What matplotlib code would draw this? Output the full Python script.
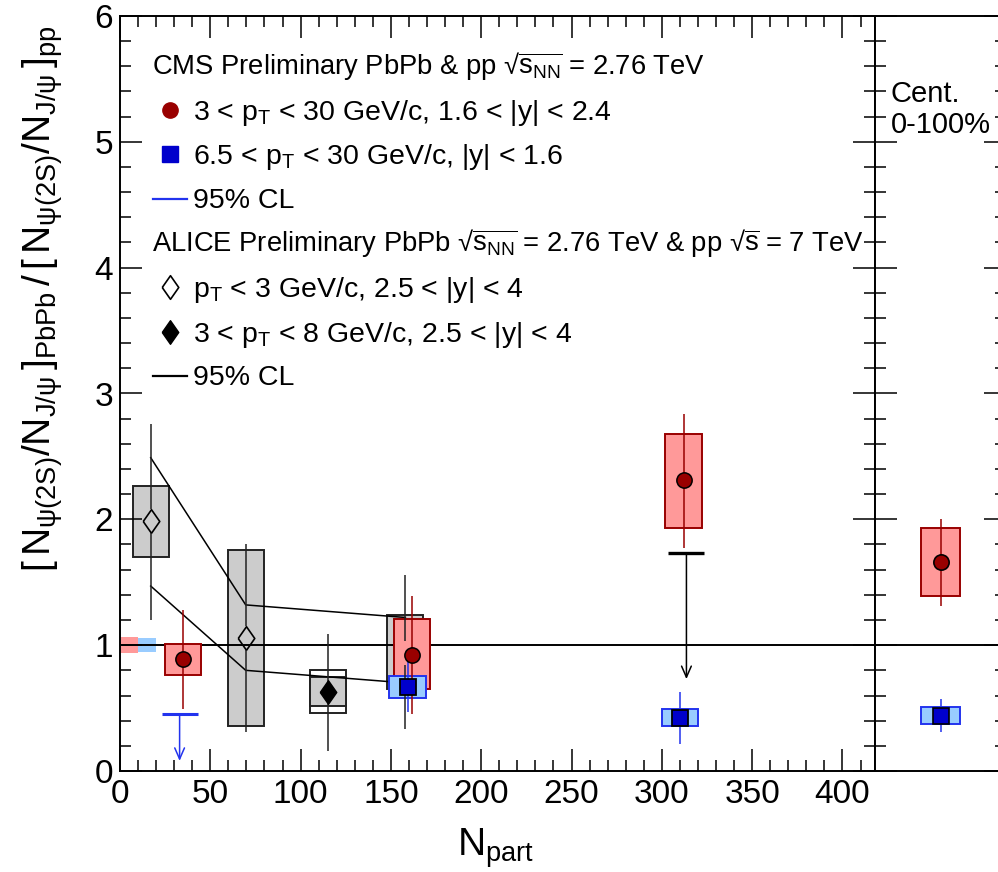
import matplotlib
matplotlib.use('Agg')
import matplotlib.pyplot as plt
from matplotlib.lines import Line2D
from matplotlib.patches import Rectangle
from matplotlib.ticker import MultipleLocator, NullLocator
import numpy as np

plt.rcParams['font.family'] = ['Liberation Sans', 'DejaVu Sans']
plt.rcParams['mathtext.fontset'] = 'custom'
plt.rcParams['mathtext.rm'] = 'Liberation Sans'
plt.rcParams['mathtext.it'] = 'Liberation Sans'
plt.rcParams['mathtext.bf'] = 'Liberation Sans:bold'

W, H = 998, 872

# --- CMS 1.6<|y|<2.4, 3<pT<30 (red circles) ---
cms_fwd_x = [35.1, 161.6, 312.0]
cms_fwd_y = [0.89, 0.925, 2.31]
cms_fwd_stat_lo = [0.49, 0.45, 1.77]
cms_fwd_stat_hi = [1.28, 1.39, 2.84]
cms_fwd_sys_lo = [0.765, 0.65, 1.93]
cms_fwd_sys_hi = [1.006, 1.205, 2.68]

# --- CMS |y|<1.6, 6.5<pT<30 (blue squares) ---
cms_mid_x = [159.2, 310.0]
cms_mid_y = [0.67, 0.425]
cms_mid_stat_lo = [0.465, 0.215]
cms_mid_stat_hi = [0.87, 0.625]
cms_mid_sys_lo = [0.583, 0.36]
cms_mid_sys_hi = [0.757, 0.49]
cms_mid_ul_x = 33.0
cms_mid_ul_y = 0.45

# --- CMS centrality integrated (0-100%) ---
int_fwd = dict(y=1.66, stat=(1.31, 2.0), sys=(1.39, 1.93))
int_mid = dict(y=0.44, stat=(0.31, 0.57), sys=(0.37, 0.51))

# --- ALICE pT<3 (open diamonds) ---
al_low_x = [17.0, 69.6, 158.0]
al_low_y = [1.99, 1.06, 0.94]
al_low_stat_lo = [1.20, 0.31, 0.33]
al_low_stat_hi = [2.76, 1.80, 1.56]
al_low_sys_lo = [1.70, 0.36, 0.65]
al_low_sys_hi = [2.265, 1.76, 1.24]
al_cl_up = [2.49, 1.32, 1.22]
al_cl_dn = [1.47, 0.80, 0.70]

# --- ALICE 3<pT<8 (filled diamond) ---
al_high_x = [115.2]
al_high_y = [0.63]
al_high_stat_lo = [0.16]
al_high_stat_hi = [1.09]
al_high_sys_lo = [0.46]     # outer (white) box
al_high_sys_hi = [0.80]
al_high_sys2_lo = [0.515]   # inner (grey) box
al_high_sys2_hi = [0.745]
al_ul_x = 313.6
al_ul_y = 1.735

# pp reference uncertainties at 1
pp_fwd_err = 0.065
pp_mid_err = 0.055

red_fill, red_dark = '#ff9999', '#990000'
blue_fill, blue_edge, blue_mark = '#99ccff', '#2233ee', '#0000cc'
grey = '#cccccc'
hw = 10.0   # half width of syst boxes in Npart
gap = 0.095  # marker half height in y units (error bar stops at the marker)

diamond = [(-0.7, 0), (0, 1), (0.7, 0), (0, -1), (-0.7, 0)]

fig = plt.figure(figsize=(W / 100, H / 100), dpi=100)
ax = fig.add_axes([120 / W, (H - 771) / H, 755 / W, 755 / H])
ax2 = fig.add_axes([875 / W, (H - 771) / H, 131 / W, 755 / H])

for a in (ax, ax2):
    a.set_ylim(0, 6)
    a.yaxis.set_major_locator(MultipleLocator(1))
    a.yaxis.set_minor_locator(MultipleLocator(0.2))
    for s in a.spines.values():
        s.set_linewidth(1.4)
    a.tick_params(which='both', direction='in', left=True, right=True, width=1.1)
    a.tick_params(which='major', length=16)
    a.tick_params(which='minor', length=8)
    a.axhline(1, color='black', lw=1.4, zorder=1.5)

ax.set_xlim(0, 418)
ax.xaxis.set_major_locator(MultipleLocator(50))
ax.xaxis.set_minor_locator(MultipleLocator(10))
ax.tick_params(which='both', top=True, bottom=True, labelsize=24, pad=6)
ax.tick_params(axis='y', pad=5)

ax2.set_xlim(0, 1)
ax2.xaxis.set_major_locator(NullLocator())
ax2.xaxis.set_minor_locator(NullLocator())
ax2.tick_params(labelleft=False, labelbottom=False)

# pp reference boxes
ax.add_patch(Rectangle((0, 1 - pp_fwd_err), 10, 2 * pp_fwd_err, fc=red_fill, ec='none', zorder=1))
ax.add_patch(Rectangle((10, 1 - pp_mid_err), 10, 2 * pp_mid_err, fc=blue_fill, ec='none', zorder=1))

# ALICE syst boxes
for x, lo, hi in zip(al_low_x, al_low_sys_lo, al_low_sys_hi):
    ax.add_patch(Rectangle((x - hw, lo), 2 * hw, hi - lo, fc=grey, ec='#222222', lw=1.4, zorder=1))
for x, lo, hi, lo2, hi2 in zip(al_high_x, al_high_sys_lo, al_high_sys_hi, al_high_sys2_lo, al_high_sys2_hi):
    ax.add_patch(Rectangle((x - hw, lo), 2 * hw, hi - lo, fc='white', ec='#222222', lw=1.4, zorder=1))
    ax.add_patch(Rectangle((x - hw, lo2), 2 * hw, hi2 - lo2, fc=grey, ec='#222222', lw=1.4, zorder=1.1))

# ALICE 95% CL band lines
ax.plot(al_low_x, al_cl_up, color='black', lw=1.1, zorder=2)
ax.plot(al_low_x, al_cl_dn, color='black', lw=1.1, zorder=2)

# ALICE markers (under the CMS boxes)
ax.plot(al_low_x, al_low_y, ls='none', marker=diamond, ms=17, mfc='none', mec='black', mew=1.2, zorder=2.5)
ax.plot(al_high_x, al_high_y, ls='none', marker=diamond, ms=17, mfc='black', mec='black', zorder=2.5)

# CMS syst boxes
for x, lo, hi in zip(cms_fwd_x, cms_fwd_sys_lo, cms_fwd_sys_hi):
    ax.add_patch(Rectangle((x - hw, lo), 2 * hw, hi - lo, fc=red_fill, ec=red_dark, lw=1.4, zorder=3))
for x, lo, hi in zip(cms_mid_x, cms_mid_sys_lo, cms_mid_sys_hi):
    ax.add_patch(Rectangle((x - hw, lo), 2 * hw, hi - lo, fc=blue_fill, ec=blue_edge, lw=1.4, zorder=4))

# stat error bars (ALICE bars stop at the open marker)
al_y = np.array(al_low_y)
ax.vlines(al_low_x, al_low_stat_lo, al_y - gap, color='#222222', lw=1.1, zorder=5)
ax.vlines(al_low_x, al_y + gap, al_low_stat_hi, color='#222222', lw=1.1, zorder=5)
ax.vlines(al_high_x, al_high_stat_lo, al_high_stat_hi, color='#222222', lw=1.1, zorder=2.4)
ax.vlines(cms_fwd_x, cms_fwd_stat_lo, cms_fwd_stat_hi, color=red_dark, lw=1.1, zorder=5)
ax.vlines(cms_mid_x, cms_mid_stat_lo, cms_mid_stat_hi, color=blue_edge, lw=1.1, zorder=5)

# CMS markers
ax.plot(cms_fwd_x, cms_fwd_y, ls='none', marker='o', ms=11, mfc=red_dark, mec='black', mew=1.1, zorder=6)
ax.plot(cms_mid_x, cms_mid_y, ls='none', marker='s', ms=11, mfc=blue_mark, mec='black', mew=1.3, zorder=6)

# upper limits
ax.hlines(cms_mid_ul_y, cms_mid_ul_x - 10, cms_mid_ul_x + 10, color=blue_edge, lw=2.2, zorder=5)
ax.annotate('', xy=(cms_mid_ul_x, 0.08), xytext=(cms_mid_ul_x, cms_mid_ul_y),
            arrowprops=dict(arrowstyle='->,head_width=0.35,head_length=0.8', color=blue_edge, lw=1.1,
                            shrinkA=0, shrinkB=0), zorder=5)
ax.hlines(al_ul_y, al_ul_x - 10, al_ul_x + 10, color='black', lw=2.4, zorder=5)
ax.annotate('', xy=(al_ul_x, 0.73), xytext=(al_ul_x, al_ul_y),
            arrowprops=dict(arrowstyle='->,head_width=0.35,head_length=0.8', color='black', lw=1.1,
                            shrinkA=0, shrinkB=0), zorder=5)

# integrated panel
for d, fc, ec, mk, mfc in ((int_fwd, red_fill, red_dark, 'o', red_dark),
                           (int_mid, blue_fill, blue_edge, 's', blue_mark)):
    lo, hi = d['sys']
    ax2.add_patch(Rectangle((0.5 - 0.15, lo), 0.3, hi - lo, fc=fc, ec=ec, lw=1.4, zorder=3))
    ax2.vlines(0.5, d['stat'][0], d['stat'][1], color=ec, lw=1.1, zorder=5)
    ax2.plot([0.5], [d['y']], ls='none', marker=mk, ms=11, mfc=mfc, mec='black', mew=1.2, zorder=6)


def fp(px, py):
    return px / W, 1 - py / H


fig.text(*fp(891, 101.7), 'Cent.', fontsize=21, va='baseline')
fig.text(*fp(891, 133), '0-100%', fontsize=21, va='baseline')

# axis titles
fig.text(496 / W, 1 - 856 / H, r'N$_{\rm part}$', fontsize=28, ha='center', va='baseline')
fig.text(*fp(43, 25),
         r'$[\,N_{\psi(2S)}/N_{J/\psi}\,]_{\rm PbPb}\,/\,[\,N_{\psi(2S)}/N_{J/\psi}\,]_{\rm pp}$',
         fontsize=28, rotation=90, ha='center', va='top')

# legend
sq_nn = r'√$\overline{{\rm s}_{\rm NN}}$'
sq_s = r'√$\overline{\rm s}$'
fh = 19.7
fs = 20.5
fig.text(*fp(152, 74), 'CMS Preliminary PbPb & pp ' + sq_nn + ' = 2.76 TeV', fontsize=fh, va='baseline')
fig.add_artist(Line2D([170 / W], [1 - 110 / H], marker='o', ms=11, mfc=red_dark, mec=red_dark))
fig.text(*fp(193, 120), r'3 < p$_{\rm T}$ < 30 GeV/c, 1.6 < |y| < 2.4', fontsize=fs, va='baseline')
fig.add_artist(Line2D([170 / W], [1 - 154 / H], marker='s', ms=11, mfc=blue_mark, mec=blue_mark))
fig.text(*fp(193, 164), r'6.5 < p$_{\rm T}$ < 30 GeV/c, |y| < 1.6', fontsize=fs, va='baseline')
fig.add_artist(Line2D([153 / W, 187 / W], [1 - 199 / H] * 2, color=blue_edge, lw=1.6))
fig.text(*fp(193, 208), '95% CL', fontsize=fs, va='baseline')
fig.text(*fp(152, 251), 'ALICE Preliminary PbPb ' + sq_nn + ' = 2.76 TeV & pp ' + sq_s + ' = 7 TeV',
         fontsize=fh, va='baseline')
fig.add_artist(Line2D([170 / W], [1 - 287 / H], marker=diamond, ms=17, mfc='white', mec='black', mew=1.2))
fig.text(*fp(193, 297), r'p$_{\rm T}$ < 3 GeV/c, 2.5 < |y| < 4', fontsize=fs, va='baseline')
fig.add_artist(Line2D([170 / W], [1 - 332 / H], marker=diamond, ms=17, mfc='black', mec='black'))
fig.text(*fp(193, 342), r'3 < p$_{\rm T}$ < 8 GeV/c, 2.5 < |y| < 4', fontsize=fs, va='baseline')
fig.add_artist(Line2D([153 / W, 187 / W], [1 - 376 / H] * 2, color='black', lw=1.6))
fig.text(*fp(193, 385), '95% CL', fontsize=fs, va='baseline')

fig.savefig('out.png', dpi=100)
